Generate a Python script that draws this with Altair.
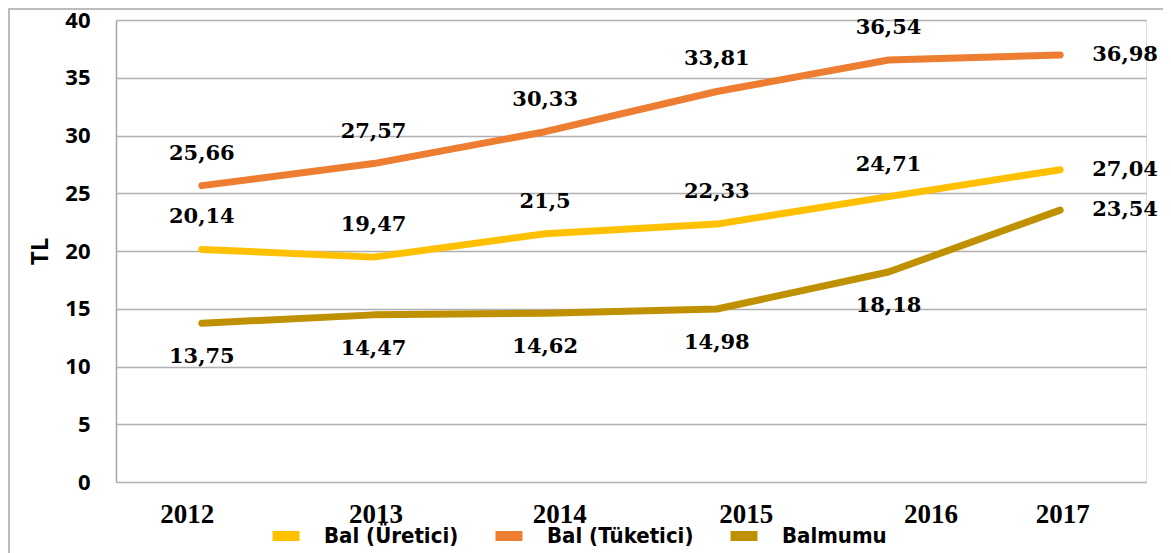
import altair as alt
import pandas as pd

years = ["2012", "2013", "2014", "2015", "2016", "2017"]
series = ["Bal (Üretici)", "Bal (Tüketici)", "Balmumu"]
uretici = [20.14, 19.47, 21.5, 22.33, 24.71, 27.04]
tuketici = [25.66, 27.57, 30.33, 33.81, 36.54, 36.98]
balmumu = [13.75, 14.47, 14.62, 14.98, 18.18, 23.54]
colors = ["#FFC000", "#ED7D31", "#BF9000"]
y_ticks = [0, 5, 10, 15, 20, 25, 30, 35, 40]

rows = []
for name, vals, lab_pos in [
    (series[0], uretici, "above"),
    (series[1], tuketici, "above"),
    (series[2], balmumu, "below"),
]:
    for i, (yr, v) in enumerate(zip(years, vals)):
        pos = "right" if i == len(years) - 1 else lab_pos
        rows.append({"year": yr, "series": name, "value": v,
                     "label": f"{v:g}".replace(".", ","), "pos": pos})
df = pd.DataFrame(rows)

x_label_offset = {
    "condition": [
        {"test": "datum.value == '2012'", "value": -15},
        {"test": "datum.value == '2014'", "value": 14},
        {"test": "datum.value == '2015'", "value": 29},
        {"test": "datum.value == '2016'", "value": 42},
    ],
    "value": 2,
}

x = alt.X("year:N", sort=years, title=None,
          scale=alt.Scale(paddingInner=0, paddingOuter=0.5),
          axis=alt.Axis(labelAngle=0, labelFont="Liberation Serif", labelFontSize=27,
                        labelFontWeight="bold", labelColor="#000", labelPadding=19,
                        labelOffset=x_label_offset,
                        domain=False, ticks=False, grid=False))
y = alt.Y("value:Q", title="TL",
          scale=alt.Scale(domain=[0, 40], nice=False, zero=True),
          axis=alt.Axis(values=y_ticks, labelFont="Open Sans", labelFontSize=22,
                        labelFontWeight="bold", labelColor="#000", labelPadding=26,
                        titleFont="Open Sans", titleFontSize=24, titleFontWeight="bold",
                        titleColor="#000", titlePadding=12,
                        domain=True, domainColor="#a6a6a6", domainWidth=1.5,
                        ticks=False, grid=True, gridColor="#b0b0b0", gridWidth=1.5))
color = alt.Color("series:N", sort=series,
                  scale=alt.Scale(domain=series, range=colors),
                  legend=alt.Legend(title=None, orient="none", legendX=159, legendY=505,
                                    direction="horizontal",
                                    symbolType="M-2.7,0H2.7", symbolSize=100,
                                    symbolStrokeWidth=10,
                                    labelFont="Liberation Sans Narrow, DejaVu Sans Condensed, Open Sans",
                                    labelFontSize=22, labelFontWeight="bold",
                                    labelColor="#000", columnPadding=16,
                                    labelOffset=27, labelLimit=300))

base = alt.Chart(df)
lines = base.mark_line(strokeWidth=7, strokeCap="round", strokeJoin="round").encode(
    x=x, y=y, color=color, order=alt.Order("year:N"))

txt_common = dict(font="DejaVu Serif", fontSize=21, fontWeight="bold", color="#000")
above = base.transform_filter("datum.pos == 'above'").mark_text(
    dy=-32, align="center", baseline="middle", **txt_common).encode(
    x=alt.X("year:N", sort=years), y="value:Q", text="label:N")
below = base.transform_filter("datum.pos == 'below'").mark_text(
    dy=34, align="center", baseline="middle", **txt_common).encode(
    x=alt.X("year:N", sort=years), y="value:Q", text="label:N")
right = base.transform_filter("datum.pos == 'right'").mark_text(
    dx=32, align="left", baseline="middle", **txt_common).encode(
    x=alt.X("year:N", sort=years), y="value:Q", text="label:N")

frame = alt.Chart(pd.DataFrame({"k": [0]})).mark_rect(
    fill=None, stroke="#a6a6a6", strokeWidth=1.5).encode(
    x=alt.value(-107), x2=alt.value(1100), y=alt.value(-11), y2=alt.value(600))

chart = alt.layer(frame, lines, above, below, right).properties(
    width=1030, height=462,
    autosize=alt.AutoSizeParams(type="none"),
    padding={"left": 108, "top": 12, "right": 17, "bottom": 80},
).configure_view(stroke=None).configure(background="white")

chart.save("out.html", embed_options={"renderer": "svg", "actions": False})
